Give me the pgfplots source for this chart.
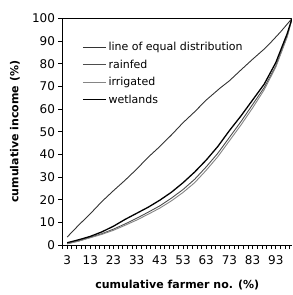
\documentclass[border=0pt]{standalone}
\usepackage{pgfplots}
\pgfplotsset{compat=1.18}
\usepackage{fontspec}
\setmainfont{DejaVu Sans}
\definecolor{eqgray}{HTML}{333333}
\definecolor{rfgray}{HTML}{4D4D4D}
\definecolor{irgray}{HTML}{858585}
\begin{document}
\begin{tikzpicture}
\begin{axis}[
  scale only axis,
  width=229.5pt, height=226.5pt,
  xmin=1, xmax=100, ymin=0, ymax=100,
  axis x line=box, axis y line=left,
  axis line style={-, line width=0.7pt, black},
  every outer y axis line/.append style={-},
  xtick pos=left, ytick pos=left,
  tick align=outside,
  xtick={3,13,...,93},
  minor xtick={1,3,...,99},
  ytick={0,10,...,100},
  major tick length=4pt, minor tick length=4pt,
  every tick/.style={black, line width=0.6pt},
  /pgf/number format/assume math mode=true,
  tick label style={font=\fontsize{12}{14}\selectfont},
  xticklabel style={yshift=-3pt},
  xlabel={\textbf{cumulative farmer no. (\%)}},
  ylabel={\textbf{cumulative income (\%)}},
  label style={font=\fontsize{11}{12}\selectfont},
  xlabel style={at={(axis description cs:0.5,-0.177)}, anchor=center},
  ylabel style={at={(axis description cs:-0.207,0.5)}, anchor=center},
  legend cell align=left,
  legend style={draw=none, fill=none, at={(axis description cs:0.085,0.905)}, anchor=north west,
    font=\fontsize{11}{12}\selectfont, inner xsep=0pt, inner ysep=0pt, row sep=3.7pt,
    nodes={inner sep=2pt}},
  legend image code/.code={\draw[#1] (0pt,0pt) -- (23pt,0pt);},
]
\coordinate (A) at (rel axis cs:0,0);
\coordinate (B) at (rel axis cs:1,1);
\addplot[eqgray, line width=0.9pt] coordinates {
(3,3.5) (8,8.8) (13,13.8) (18,19.2) (23,24.0) (28,28.6) (33,33.5) (38,38.8) (43,43.5)
(48,48.6) (53,54.0) (58,58.8) (63,64.0) (69,69.3) (73,72.5) (78,77.3) (83,82.0)
(88,86.5) (90,88.5) (95,94.0) (100,100)};
\addlegendentry{line of equal distribution}
\addplot[rfgray, line width=0.9pt] coordinates {
(3,0.6) (8,1.8) (13,3.4) (18,5.0) (23,7.0) (28,9.3) (33,11.8) (38,14.5) (43,17.3)
(48,20.7) (53,24.5) (58,29.0) (63,34.5) (68,40.5) (73,47.5) (78,54.5) (83,62.0)
(88,69.5) (93,79.0) (98,92.5) (100,100)};
\addlegendentry{rainfed}
\addplot[irgray, line width=0.9pt] coordinates {
(3,0.5) (8,1.7) (13,3.2) (18,4.7) (23,6.5) (28,8.7) (33,11.0) (38,13.6) (43,16.3)
(48,19.5) (53,23.2) (58,27.5) (63,33.0) (68,39.0) (73,46.0) (78,53.0) (83,60.5)
(88,68.5) (93,78.5) (98,92.0) (100,100)};
\addlegendentry{irrigated}
\addplot[black, line width=1.3pt] coordinates {
(3,1.0) (8,2.3) (13,3.8) (18,5.8) (23,8.3) (28,11.3) (33,14.0) (38,16.7) (43,19.8)
(48,23.3) (53,27.5) (58,32.2) (63,37.5) (68,43.5) (73,50.5) (78,57.0) (83,64.0)
(88,71.0) (93,80.5) (98,93.5) (100,100)};
\addlegendentry{wetlands}
\end{axis}
\pgfresetboundingbox
\path ([xshift=-62.5pt,yshift=-50pt]A) rectangle ([xshift=1pt,yshift=18.5pt]B);
\end{tikzpicture}
\end{document}
